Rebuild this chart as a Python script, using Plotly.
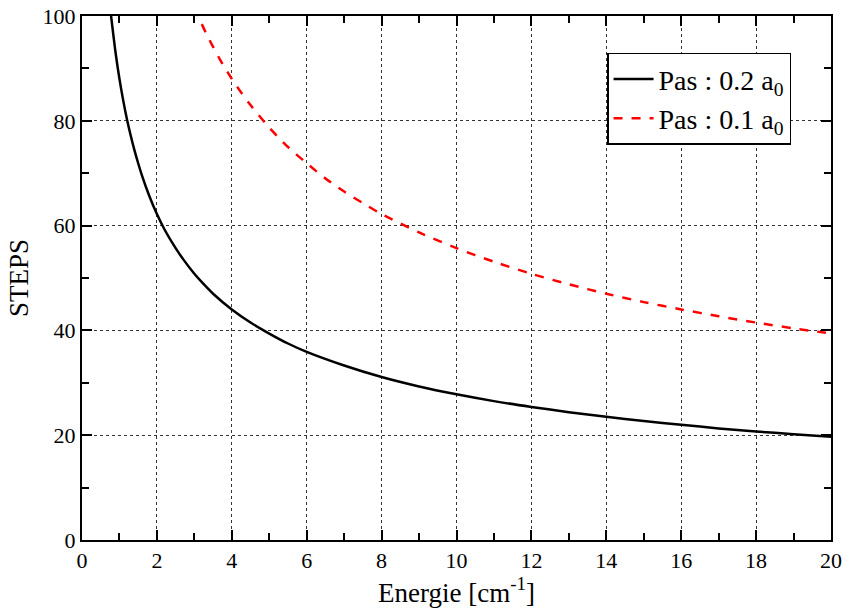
import plotly.graph_objects as go

E_black = [0.75, 0.9, 1.0, 1.1, 1.2, 1.3, 1.4, 1.5, 1.6, 1.8, 2.0, 2.2, 2.5, 2.7, 3.0, 3.2, 3.5,
           4.0, 4.5, 5.0, 5.5, 6.0, 7.0, 8.0, 9.0, 10.0, 11.0, 12.0, 13.0, 14.0, 15.0, 16.0, 17.0,
           18.0, 19.0, 20.0]
steps_black = [101.6, 92.8, 88, 83.9, 80.3, 77.2, 74.4, 71.9, 69.6, 65.6, 62.2, 59.3, 55.7, 53.6,
               50.8, 49.2, 47.0, 44.0, 41.5, 39.4, 37.5, 35.9, 33.3, 31.1, 29.3, 27.8, 26.5, 25.4,
               24.4, 23.5, 22.7, 22.0, 21.3, 20.7, 20.2, 19.7]

E_red = [3.0, 3.3, 3.5, 3.7, 4.0, 4.2, 4.5, 5.0, 5.5, 6.0, 6.5, 7.0, 7.5, 8.0, 9.0, 10.0, 11.0,
         12.0, 13.0, 14.0, 15.0, 16.0, 17.0, 18.0, 19.0, 20.0]
steps_red = [101.6, 96.9, 94.1, 91.5, 88, 85.9, 83, 78.7, 75, 71.9, 69, 66.5, 64.3, 62.2, 58.7,
             55.7, 53.1, 50.8, 48.8, 47.0, 45.4, 44.0, 42.7, 41.5, 40.4, 39.4]

FONT = "Liberation Serif"

fig = go.Figure()
fig.add_trace(go.Scatter(x=E_black, y=steps_black, mode="lines",
                         line=dict(color="black", width=2.5, shape="spline", smoothing=0.8),
                         name="Pas : 0.2 a<sub>0</sub>"))
fig.add_trace(go.Scatter(x=E_red, y=steps_red, mode="lines",
                         line=dict(color="#ff0000", width=2.5, dash="dash", shape="spline", smoothing=0.8),
                         name="Pas : 0.1 a<sub>0</sub>"))

axis_common = dict(showline=True, linecolor="black", linewidth=2, mirror="allticks",
                   ticks="inside", ticklen=10, tickwidth=1.5, tickcolor="black",
                   showgrid=True, gridcolor="#333", griddash="dot", gridwidth=1,
                   zeroline=False, automargin=False,
                   tickfont=dict(family=FONT, size=22, color="black"),
                   minor=dict(ticks="inside", ticklen=7, tickwidth=1.5, tickcolor="black",
                              showgrid=False))

fig.update_xaxes(range=[0, 20], dtick=2, tick0=0, minor_dtick=1,
                 title=dict(text="Energie [cm<sup>-1</sup>]", font=dict(family=FONT, size=27, color="black"),
                            standoff=4),
                 **axis_common)
fig.update_yaxes(range=[0, 100], dtick=20, tick0=0, minor_dtick=10,
                 title=dict(text="STEPS", font=dict(family=FONT, size=27, color="black"), standoff=6),
                 **axis_common)

fig.update_layout(
    width=844, height=610,
    margin=dict(l=82, r=13, t=16, b=70),
    plot_bgcolor="white", paper_bgcolor="white",
    font=dict(family=FONT, color="black"),
    showlegend=True,
    legend=dict(x=0.701, y=0.93, xanchor="left", yanchor="top",
                bgcolor="white", bordercolor="black", borderwidth=1.5,
                font=dict(family=FONT, size=28, color="black"),
                itemwidth=40, tracegroupgap=2),
)

fig.write_html("out.html", config={"displayModeBar": False},
               post_script="document.body.style.margin='0';")
